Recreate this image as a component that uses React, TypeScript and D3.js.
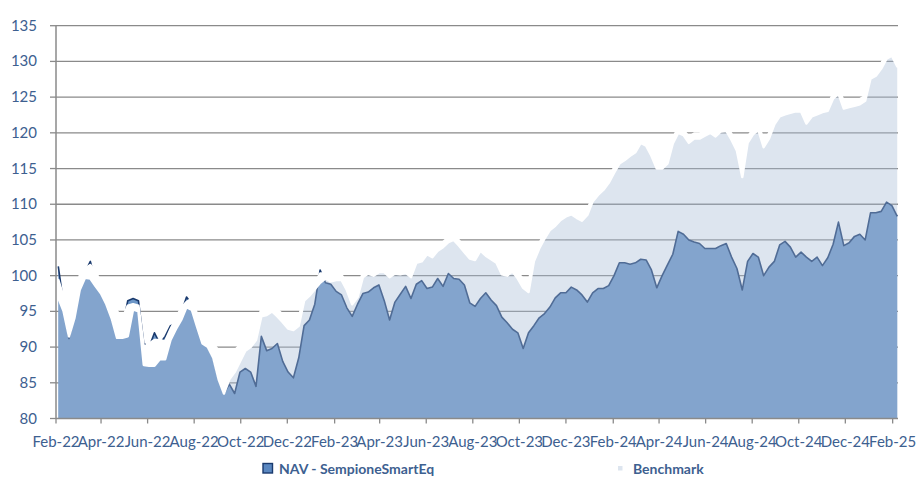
import React from 'react';
import * as d3 from 'd3';

// Weekly observations starting 4 Feb 2022
const START = new Date(2022, 1, 4);

const nav = [
  101.3, 96, 91.2, 94.5, 98.8, 100.5, 102, 99, 97.8, 96.5,
  94, 91.5, 92.8, 96.5, 96.8, 96.5, 90.5, 90, 92, 90.5,
  91.5, 93, 93.3, 94.8, 97, 96, 93, 90.6, 90, 88.5,
  85.5, 83.5, 84.8, 83.5, 86.5, 87, 86.5, 84.5, 91.5, 89.5,
  89.8, 90.5, 88, 86.5, 85.7, 88.5, 93, 93.8, 96, 100.8,
  99, 98.8, 97.8, 97.3, 95.5, 94.3, 96, 97.5, 97.7, 98.3,
  98.7, 96.5, 93.8, 96.3, 97.4, 98.5, 96.8, 98.8, 99.3, 98.2,
  98.4, 99.6, 98.5, 100.3, 99.6, 99.5, 98.7, 96.2, 95.7, 96.8,
  97.6, 96.6, 95.8, 94.2, 93.4, 92.5, 92, 89.8, 92, 93,
  94.1, 94.7, 95.6, 96.9, 97.6, 97.6, 98.4, 98, 97.3, 96.3,
  97.6, 98.2, 98.2, 98.6, 100, 101.8, 101.8, 101.6, 101.8, 102.3,
  102.2, 100.8, 98.3, 100, 101.5, 103, 106.2, 105.8, 105, 104.7,
  104.5, 103.8, 103.8, 103.8, 104.2, 104.5, 102.6, 101, 98, 102,
  103.1, 102.6, 100, 101.2, 102, 104.3, 104.8, 104, 102.6, 103.3,
  102.6, 102, 102.6, 101.4, 102.5, 104.4, 107.5, 104.2, 104.6, 105.5,
  105.8, 105, 108.8, 108.8, 109, 110.3, 109.8, 108.3,
];

// Benchmark weekly low (visible edge of the light area)
const benchmark = [
  96.9, 95, 91.5, 94, 98, 99.7, 99.6, 98.5, 97.5, 96,
  94, 91.3, 91.3, 91.5, 95.3, 95, 87.5, 87.4, 87.4, 88.3,
  88.3, 91, 92.5, 93.8, 95.6, 95.2, 92.8, 90.5, 90, 88.5,
  85.5, 83.5, 85.5, 86.5, 88, 89.5, 90, 91, 94.3, 94.5,
  95, 94.3, 93.5, 92.6, 92.4, 93, 96.5, 97.2, 98.1, 99,
  99.6, 99.2, 99.4, 99.4, 98, 96, 97, 99.8, 100.3, 100,
  100.5, 100.5, 99.8, 100.3, 100.2, 100.4, 99.8, 101.8, 102, 103,
  102.6, 103.5, 104, 104.7, 105, 104.2, 103.3, 102.4, 102.2, 103.5,
  102.8, 102.3, 101.8, 100.2, 100, 100.6, 99.6, 98.3, 97.7, 102,
  103.8, 105.2, 106.4, 107, 107.8, 108.3, 108.6, 108.1, 107.7, 108.5,
  110.4, 111.3, 112, 113, 114.4, 115.7, 116.2, 116.8, 117.3, 118.6,
  118.2, 116.8, 115, 115, 115.7, 118.5, 120, 119.7, 118.6, 119.2,
  119.2, 119.6, 120, 119.5, 120.2, 120.3, 119, 117.5, 113.8, 118.6,
  119.8, 120.4, 118, 119.2, 121.2, 122.3, 122.6, 122.8, 123, 123,
  121.3, 122.3, 122.6, 122.9, 123.1, 124.8, 125.5, 123.4, 123.6, 123.8,
  124, 124.5, 127.6, 128, 129, 130.4, 130.8, 129.3,
];

// Benchmark intra-week swing (points above the weekly low)
const benchmarkSwing = [
  2.5, 2, 3.5, 1.5, 2, 1.3, 1.9, 2, 1.5, 2,
  3, 3.7, 2.7, 4.3, 0.7, 0.8, 2.5, 3.1, 3.6, 2.7,
  2.5, 1.5, 1.5, 1.7, 0.7, 1.6, 1.7, 1.5, 1, 2,
  4, 5.5, 2.5, 3, 2.3, 1.5, 1.5, 2, 1, 1,
  1, 1, 1, 0.9, 0.9, 1, 0.8, 0.8, 0.8, 1.3,
  0.7, 0.7, 0.7, 0.7, 0.9, 1.5, 0.8, 0.7, 0.7, 0.7,
  0.7, 0.7, 1, 0.7, 0.7, 0.7, 0.8, 0.7, 0.7, 0.7,
  0.7, 0.7, 0.7, 0.7, 0.7, 0.7, 0.7, 0.7, 0.7, 0.7,
  0.7, 0.7, 0.7, 0.8, 0.7, 0.7, 0.8, 1.2, 1.2, 0.8,
  0.7, 0.7, 0.7, 0.7, 0.7, 0.7, 0.7, 0.7, 0.7, 0.7,
  0.7, 0.7, 0.7, 0.7, 0.7, 0.7, 0.7, 0.7, 0.7, 0.7,
  0.7, 0.8, 1, 0.8, 0.7, 0.7, 0.7, 0.7, 0.8, 0.7,
  0.7, 0.7, 0.7, 0.7, 0.7, 0.7, 0.8, 1, 1.5, 0.8,
  0.7, 0.7, 1, 0.7, 0.7, 0.7, 0.7, 0.7, 0.7, 0.7,
  1, 0.7, 0.7, 0.7, 0.7, 0.7, 0.7, 1, 0.7, 0.7,
  0.7, 0.7, 0.7, 0.7, 0.7, 0.7, 0.7, 0.7,
];

const yTicks = [80, 85, 90, 95, 100, 105, 110, 115, 120, 125, 130, 135];
const xTickDates = d3.range(19).map((k) => new Date(2022, 1 + 2 * k, 1));
const seriesNames = ['NAV - SempioneSmartEq', 'Benchmark'];

const TEXT = '#3d6090';
const GRID = '#8a8a8a';
const NAV_FILL = '#6c96c7';
const NAV_STROKE = '#1a3a6e';
const BENCH_FILL = 'rgba(168,188,214,0.39)';
const FONT = "Lato, 'Open Sans', sans-serif";

export default function App() {
  const W = 920;
  const H = 477;
  const x = d3.scaleTime().domain([new Date(2022, 1, 1), new Date(2025, 1, 8)]).range([56, 898]);
  const y = d3.scaleLinear().domain([80, 135]).range([418.5, 25.7]);
  const dates = nav.map((_, i) => d3.timeDay.offset(START, 7 * i));
  const fmt = d3.timeFormat('%b-%y');

  const navArea = d3.area<number>().x((_, i) => x(dates[i])).y0(y(80)).y1((d) => y(d));
  const navLine = d3.line<number>().x((_, i) => x(dates[i])).y((d) => y(d));
  const benchArea = d3.area<number>().x((_, i) => x(dates[i])).y0(y(80)).y1((d) => y(d));
  const benchBand = d3
    .area<number>()
    .x((_, i) => x(dates[i]))
    .y0((d) => y(d))
    .y1((d, i) => y(d + benchmarkSwing[i]));

  const x0 = 56;
  const x1 = 898;
  const yBase = y(80);

  return (
    <svg width={W} height={H} style={{ position: 'absolute', left: 0, top: 0, background: '#fff' }} fontFamily={FONT}>
      {/* gridlines */}
      {yTicks.filter((t) => t > 80).map((t) => (
        <line key={t} x1={x0} x2={x1} y1={y(t)} y2={y(t)} stroke={GRID} strokeWidth={1.3} />
      ))}
      {/* NAV */}
      <path d={navArea(nav) || ''} fill={NAV_FILL} />
      <path d={navLine(nav) || ''} fill="none" stroke={NAV_STROKE} strokeWidth={1.6} strokeLinejoin="round" />
      {/* Benchmark (in front, translucent) */}
      <path d={benchArea(benchmark) || ''} fill={BENCH_FILL} />
      <path d={benchBand(benchmark) || ''} fill="#fff" stroke="#fff" strokeWidth={2.5} strokeLinejoin="round" />
      {/* axes */}
      <line x1={x0} x2={x0} y1={y(135)} y2={yBase} stroke={GRID} strokeWidth={1.5} />
      <line x1={x0} x2={x1} y1={yBase} y2={yBase} stroke={GRID} strokeWidth={1.5} />
      {yTicks.map((t) => (
        <g key={t}>
          <line x1={x0 - 6} x2={x0} y1={y(t)} y2={y(t)} stroke={GRID} strokeWidth={1.3} />
          <text x={37} y={y(t) + 5} textAnchor="end" fontSize={15} fill={TEXT}>
            {t}
          </text>
        </g>
      ))}
      {xTickDates.map((d, k) => (
        <g key={k}>
          <line x1={x(d)} x2={x(d)} y1={yBase} y2={yBase + 5} stroke={GRID} strokeWidth={1.3} />
          <text x={x(d)} y={447} textAnchor="middle" fontSize={15} fill={TEXT}>
            {fmt(d)}
          </text>
        </g>
      ))}
      {/* legend */}
      <rect x={263} y={463.5} width={9.5} height={9.5} fill="#5a87c0" stroke={NAV_STROKE} strokeWidth={1.4} />
      <text x={279} y={473.5} fontSize={14} fontWeight="bold" fill={TEXT}>
        {seriesNames[0]}
      </text>
      <rect x={618} y={466} width={4.5} height={4.5} fill="#dde5ef" />
      <text x={633} y={473.5} fontSize={14} fontWeight="bold" fill={TEXT}>
        {seriesNames[1]}
      </text>
    </svg>
  );
}
